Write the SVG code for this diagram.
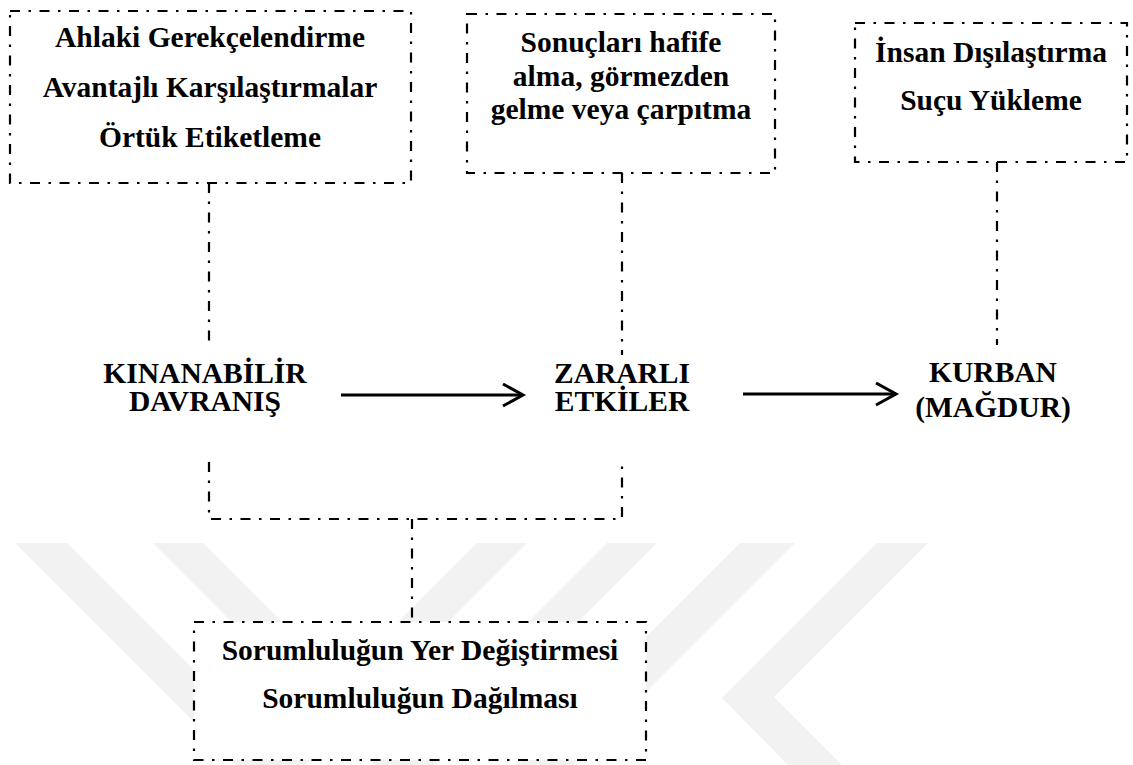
<svg xmlns="http://www.w3.org/2000/svg" width="1133" height="765" viewBox="0 0 1133 765">
<style>
.box{fill:#ffffff;stroke:#000;stroke-width:2.2;stroke-dasharray:10 8.5 2.5 8.5}
.dd{fill:none;stroke:#000;stroke-width:2.2;stroke-dasharray:10 8.5 2.5 8.5}
.arr{fill:none;stroke:#000;stroke-width:3}
.t{font-family:'Liberation Serif','Times New Roman',serif;font-weight:700;font-size:29.5px;text-anchor:middle;fill:#000}
.wm{fill:#f2f2f2}
</style>
<defs>
<marker id="chev" markerUnits="userSpaceOnUse" markerWidth="26" markerHeight="28" refX="21" refY="12" orient="auto">
<path d="M1,1 L21,12 L1,23" fill="none" stroke="#000" stroke-width="3"/>
</marker>
</defs>
<rect width="1133" height="765" fill="#ffffff"/>
<g id="watermark">
<polygon class="wm" points="15,543 67,543 289,765 237,765"/>
<polygon class="wm" points="153,543 203,543 425,765 375,765"/>
<polygon class="wm" points="477,543 527,543 305,765 255,765"/>
<polygon class="wm" points="607,543 657,543 435,765 385,765"/>
<polygon class="wm" points="740,543 795,543 573,765 518,765"/>
<polygon class="wm" points="877,543 928,543 774,697 842,765 788,765 722,698"/>
</g>
<g id="connectors">
<path class="dd" d="M209,183 V343"/>
<path class="dd" d="M622,173 V355"/>
<path class="dd" d="M997,162 V345"/>
<path class="dd" d="M209,462 V519 H622 V462"/>
<path class="dd" d="M412,519 V622"/>
<line class="arr" x1="341" y1="395" x2="523" y2="395" marker-end="url(#chev)"/>
<line class="arr" x1="743" y1="394" x2="896" y2="394" marker-end="url(#chev)"/>
</g>
<g id="node-ahlaki">
<rect class="box" x="10" y="11" width="401" height="172"/>
<text class="t" x="210" y="47">Ahlaki Gerekçelendirme</text>
<text class="t" x="210" y="97">Avantajlı Karşılaştırmalar</text>
<text class="t" x="210" y="147">Örtük Etiketleme</text>
</g>
<g id="node-sonuc">
<rect class="box" x="467" y="14" width="308" height="159"/>
<text class="t" x="621" y="52">Sonuçları hafife</text>
<text class="t" x="621" y="86">alma, görmezden</text>
<text class="t" x="621" y="119">gelme veya çarpıtma</text>
</g>
<g id="node-insan">
<rect class="box" x="855" y="23" width="272" height="139"/>
<text class="t" x="991" y="62">İnsan Dışılaştırma</text>
<text class="t" x="991" y="110">Suçu Yükleme</text>
</g>
<g id="node-davranis">
<text class="t" x="205" y="383">KINANABİLİR</text>
<text class="t" x="205" y="411">DAVRANIŞ</text>
</g>
<g id="node-etkiler">
<text class="t" x="622" y="383">ZARARLI</text>
<text class="t" x="622" y="411">ETKİLER</text>
</g>
<g id="node-kurban">
<text class="t" x="993" y="382">KURBAN</text>
<text class="t" x="993" y="417">(MAĞDUR)</text>
</g>
<g id="node-sorumluluk">
<rect class="box" x="194" y="622" width="452" height="138"/>
<text class="t" x="420" y="660">Sorumluluğun Yer Değiştirmesi</text>
<text class="t" x="420" y="708">Sorumluluğun Dağılması</text>
</g>
</svg>
